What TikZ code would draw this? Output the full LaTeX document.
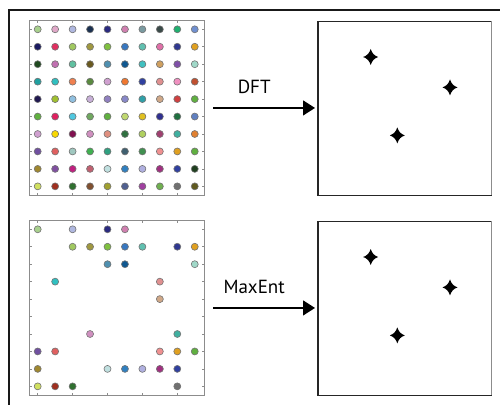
\documentclass[tikz,border=0pt]{standalone}
\usepackage{fontspec}
\setmainfont{PT Sans}
\usetikzlibrary{arrows.meta}

\tikzset{
  plotframe/.style={draw=black!45, line width=0.8pt, minimum width=175pt,
    minimum height=174.5pt, inner sep=0pt, outer sep=0pt},
  specbox/.style={minimum width=173.7pt, minimum height=174pt,
    inner sep=0pt, outer sep=0pt},
  boxedge/.style={draw=black!85, line width=1.6pt},
  boxside/.style={draw=black!45, line width=0.8pt},
  tick/.style={draw=black!45, line width=0.6pt},
  dot/.style={fill=dotc, draw=black!55, line width=0.6pt},
  flow/.style={line width=1.4pt, -{Triangle[length=12pt,width=15pt]},
    shorten <=9pt, shorten >=3pt},
  flowlabel/.style={font=\fontsize{19}{22}\selectfont, inner sep=0pt},
  sparkle/.pic={
    \fill[black] (0,-8) .. controls (1.5,-3.5) and (3.5,-1.5) .. (7.5,0)
      .. controls (3.5,1.5) and (1.5,3.5) .. (0,8)
      .. controls (-1.5,3.5) and (-3.5,1.5) .. (-7.5,0)
      .. controls (-3.5,-1.5) and (-1.5,-3.5) .. cycle;
  }
}

\begin{document}
\begin{tikzpicture}[x=1pt, y=-1pt]
  \useasboundingbox (0,0) rectangle (500,404);

  % outer panel border
  \draw[line width=2pt, black!90] (502,10) -- (8.5,10) -- (8.5,406);

  % sample grids (full and sparse)
  \node[plotframe] (L1) at (116.5,107.95) {};
  \node[plotframe] (L2) at (116.5,307.95) {};

  % spectrum panels
  \node[specbox] (R1) at (404.85,108.4) {};
  \node[specbox] (R2) at (404.85,308.4) {};
  \foreach \n in {R1,R2} {
    \draw[boxedge] (\n.north east) -- (\n.north west) -- (\n.south west) -- (\n.south east);
    \draw[boxside] (\n.north east) -- (\n.south east);
  }

  % axis ticks on the grid frames
  \foreach \n in {L1,L2} {
    \foreach \k in {0,...,9} {
      \draw[tick] (\n.north west) ++(0,{8.6+17.45*\k}) -- ++(2.5,0);
      \draw[tick] (\n.north east) ++(0,{8.6+17.45*\k}) -- ++(-2.5,0);
    }
    \foreach \k in {0,2,4,6,8} {
      \draw[tick] (\n.north west) ++({8.7+17.45*\k},0) -- ++(0,2.5);
      \draw[tick] (\n.south west) ++({8.7+17.45*\k},0) -- ++(0,-2.5);
    }
  }

  % sample colours, row by row (ten per row); /1 marks samples kept in the sparse grid
  \foreach \hx/\keep [count=\i from 0] in {
    A8D08D/1,E0A8C8/0,B0B8E0/1,1A3050/0,2A2A80/1,D080B0/1,7A9AA0/0,3A4A48/0,20B070/0,7090D0/0,
    1A1A60/0,E03060/0,A0C860/1,A09840/1,80C040/1,3878C0/1,60C0B0/1,E070A8/0,303890/1,E0A020/1,
    204A20/0,C070B0/0,60C0A0/0,6A5A20/0,5090B0/1,105890/1,40C0C0/0,D0A060/0,8050A8/0,A0D8C8/1,
    20A0A0/0,30C0C0/1,F08050/0,5A8A40/0,D0A0D0/0,F07830/0,3040A0/0,E09090/1,F090C0/0,C05030/0,
    201850/0,A0C030/0,90C0E0/0,C8B0D8/0,9080C0/0,8888C8/0,30A0A8/0,D0A888/1,D04040/0,60B040/0,
    60B040/0,E02060/0,50C8E0/0,70A860/0,60B040/0,C0D870/0,E0C020/0,303090/0,207040/0,6080C0/0,
    D0A0D0/0,F8D800/0,801050/0,D090C0/1,E09080/0,307040/0,B0D060/0,A04070/0,40B0A0/1,E08030/0,
    7050A0/1,E06060/1,A0C8C0/0,40B050/0,30A080/0,406070/0,409050/0,F09090/1,E0A020/1,60B040/1,
    A08830/1,8050A0/0,C02080/0,C06070/0,C0E0E0/1,3080C0/1,B0B0E0/1,A03080/1,3040A0/1,204020/0,
    D0E060/1,A03020/1,307030/1,805030/0,A0A030/0,506090/0,A040A0/0,70B050/0,707070/1,605A20/0%
  } {
    \pgfmathtruncatemacro{\col}{mod(\i,10)}
    \pgfmathtruncatemacro{\row}{\i/10}
    \definecolor{dotc}{HTML}{\hx}
    \path[dot, shift={(L1.north west)}]
      ({8.7+17.45*\col},{8.6+17.45*\row}) circle[radius=3.5pt];
    \ifnum\keep=1
      \path[dot, shift={(L2.north west)}]
        ({8.7+17.45*\col},{8.6+17.45*\row}) circle[radius=3.5pt];
    \fi
  }

  % transforms
  \draw[flow] (L1.east) -- (L1.east -| R1.west)
    node[flowlabel, pos=0.44, above=14pt] (dft) {DFT};
  \draw[flow] (L2.east) -- (L2.east -| R2.west)
    node[flowlabel, pos=0.44, above=14pt] (maxent) {MaxEnt};

  % spectral peaks
  \foreach \n in {R1,R2} {
    \path (\n.north west) ++(52.7,35.6) pic {sparkle};
    \path (\n.north west) ++(132,66) pic {sparkle};
    \path (\n.north west) ++(79.3,114) pic {sparkle};
  }
\end{tikzpicture}
\end{document}
